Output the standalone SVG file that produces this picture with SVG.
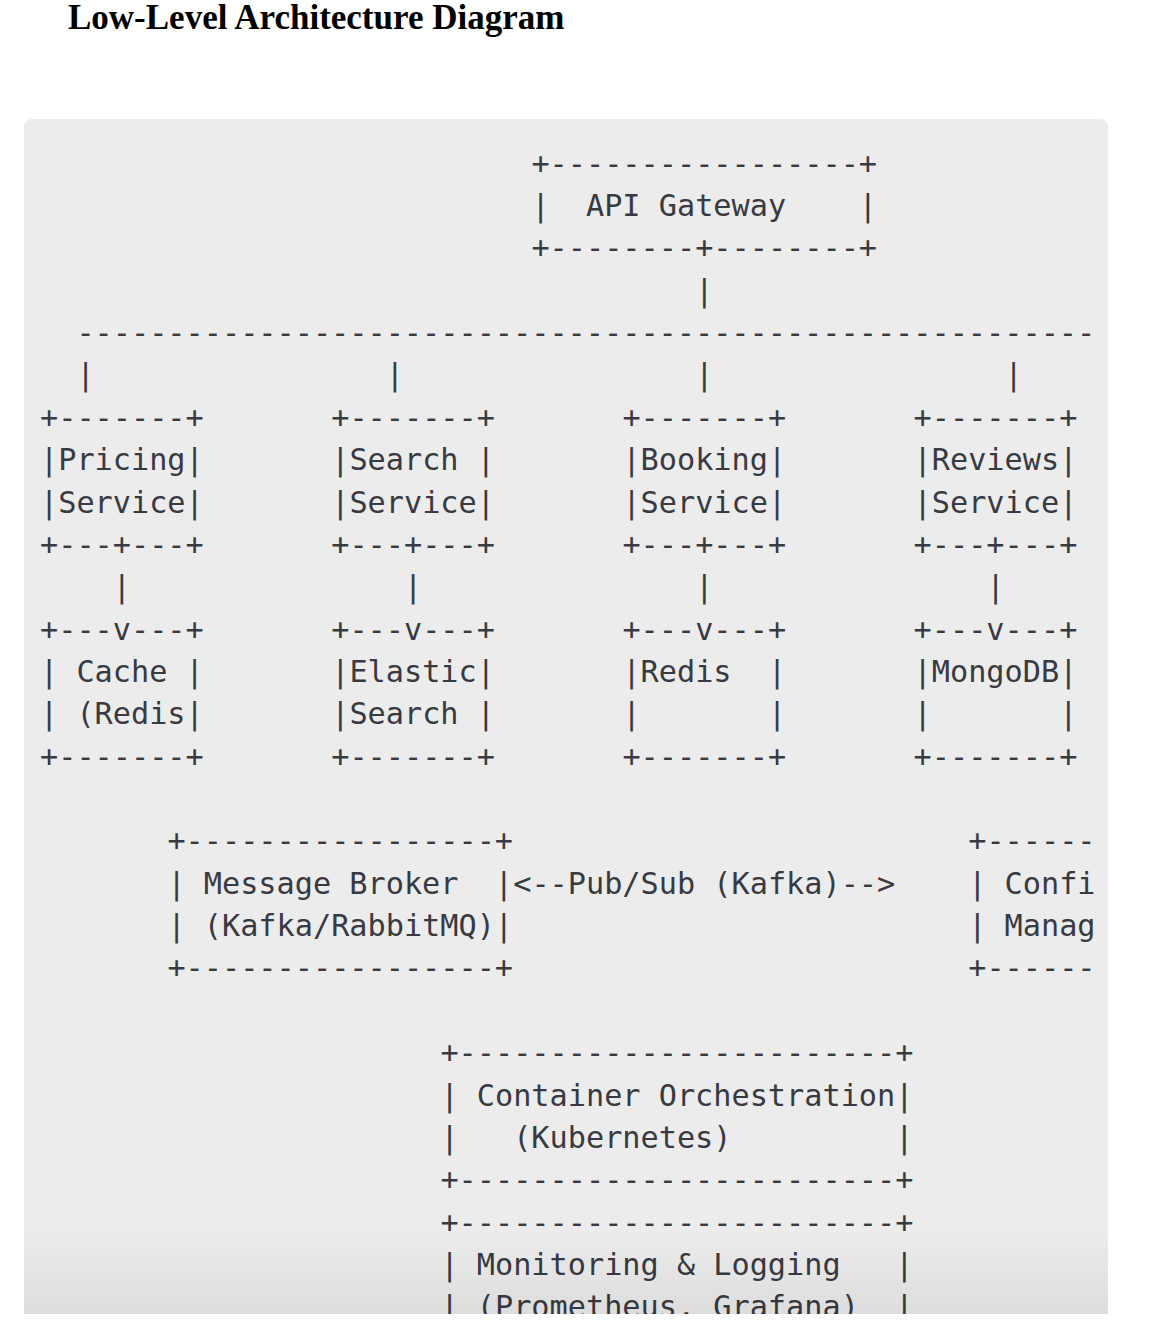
<svg xmlns="http://www.w3.org/2000/svg" width="1164" height="1326" viewBox="0 0 1164 1326" xml:space="preserve">
<style>
  .t { font-family: "DejaVu Sans Mono", "Liberation Mono", monospace; font-size: 30.23px; fill: #383a42; white-space: pre; }
  .title { font-family: "Liberation Serif", "Times New Roman", serif; font-weight: bold; font-size: 35px; fill: #000; }
</style>
<defs>
  <linearGradient id="fade" x1="0" y1="0" x2="0" y2="1">
    <stop offset="0" stop-color="#000" stop-opacity="0"/>
    <stop offset="1" stop-color="#000" stop-opacity="0.065"/>
  </linearGradient>
</defs>
<rect width="1164" height="1326" fill="#ffffff"/>
<text class="title" x="68" y="29">Low-Level Architecture Diagram</text>
<rect id="pre-bg" x="24" y="119" width="1084" height="1215" rx="8" fill="#ececec"/>

<g id="api-gateway">
  <text class="t" x="531.4" y="173.6">+-----------------+</text>
  <text class="t" x="531.4" y="216.0">|  API Gateway    |</text>
  <text class="t" x="531.4" y="258.3">+--------+--------+</text>
</g>

<g id="connectors">
  <text class="t" x="695.2" y="300.7">|</text>
  <text class="t" x="76.4" y="343.0">--------------------------------------------------------</text>
  <text class="t" x="76.4" y="385.4">|</text>
  <text class="t" x="385.8" y="385.4">|</text>
  <text class="t" x="695.2" y="385.4">|</text>
  <text class="t" x="1004.6" y="385.4">|</text>
  <text class="t" x="112.8" y="597.2">|</text>
  <text class="t" x="404.0" y="597.2">|</text>
  <text class="t" x="695.2" y="597.2">|</text>
  <text class="t" x="986.4" y="597.2">|</text>
  <text class="t" x="513.2" y="893.7">&lt;--Pub/Sub (Kafka)--&gt;</text>
</g>

<g id="pricing-service">
  <text class="t" x="40" y="427.8">+-------+</text>
  <text class="t" x="40" y="470.1">|Pricing|</text>
  <text class="t" x="40" y="512.5">|Service|</text>
  <text class="t" x="40" y="554.8">+---+---+</text>
</g>
<g id="search-service">
  <text class="t" x="331.2" y="427.8">+-------+</text>
  <text class="t" x="331.2" y="470.1">|Search |</text>
  <text class="t" x="331.2" y="512.5">|Service|</text>
  <text class="t" x="331.2" y="554.8">+---+---+</text>
</g>
<g id="booking-service">
  <text class="t" x="622.4" y="427.8">+-------+</text>
  <text class="t" x="622.4" y="470.1">|Booking|</text>
  <text class="t" x="622.4" y="512.5">|Service|</text>
  <text class="t" x="622.4" y="554.8">+---+---+</text>
</g>
<g id="reviews-service">
  <text class="t" x="913.6" y="427.8">+-------+</text>
  <text class="t" x="913.6" y="470.1">|Reviews|</text>
  <text class="t" x="913.6" y="512.5">|Service|</text>
  <text class="t" x="913.6" y="554.8">+---+---+</text>
</g>

<g id="cache-redis">
  <text class="t" x="40" y="639.6">+---v---+</text>
  <text class="t" x="40" y="681.9">| Cache |</text>
  <text class="t" x="40" y="724.3">| (Redis|</text>
  <text class="t" x="40" y="766.6">+-------+</text>
</g>
<g id="elastic-search">
  <text class="t" x="331.2" y="639.6">+---v---+</text>
  <text class="t" x="331.2" y="681.9">|Elastic|</text>
  <text class="t" x="331.2" y="724.3">|Search |</text>
  <text class="t" x="331.2" y="766.6">+-------+</text>
</g>
<g id="redis">
  <text class="t" x="622.4" y="639.6">+---v---+</text>
  <text class="t" x="622.4" y="681.9">|Redis  |</text>
  <text class="t" x="622.4" y="724.3">|       |</text>
  <text class="t" x="622.4" y="766.6">+-------+</text>
</g>
<g id="mongodb">
  <text class="t" x="913.6" y="639.6">+---v---+</text>
  <text class="t" x="913.6" y="681.9">|MongoDB|</text>
  <text class="t" x="913.6" y="724.3">|       |</text>
  <text class="t" x="913.6" y="766.6">+-------+</text>
</g>

<g id="message-broker">
  <text class="t" x="167.4" y="851.4">+-----------------+</text>
  <text class="t" x="167.4" y="893.7">| Message Broker  |</text>
  <text class="t" x="167.4" y="936.1">| (Kafka/RabbitMQ)|</text>
  <text class="t" x="167.4" y="978.4">+-----------------+</text>
</g>

<g id="config-management">
  <text class="t" x="968.2" y="851.4">+------</text>
  <text class="t" x="968.2" y="893.7">| Confi</text>
  <text class="t" x="968.2" y="936.1">| Manag</text>
  <text class="t" x="968.2" y="978.4">+------</text>
</g>

<g id="container-orchestration">
  <text class="t" x="440.4" y="1063.2">+------------------------+</text>
  <text class="t" x="440.4" y="1105.5">| Container Orchestration|</text>
  <text class="t" x="440.4" y="1147.9">|   (Kubernetes)         |</text>
  <text class="t" x="440.4" y="1190.2">+------------------------+</text>
</g>

<g id="monitoring-logging">
  <text class="t" x="440.4" y="1232.6">+------------------------+</text>
  <text class="t" x="440.4" y="1274.96">| Monitoring &amp; Logging   |</text>
  <text class="t" x="440.4" y="1317.3">| (Prometheus, Grafana)  |</text>
</g>

<rect x="24" y="1230" width="1084" height="84" fill="url(#fade)"/>
<rect x="0" y="1314" width="1164" height="12" fill="#ffffff"/>
</svg>
